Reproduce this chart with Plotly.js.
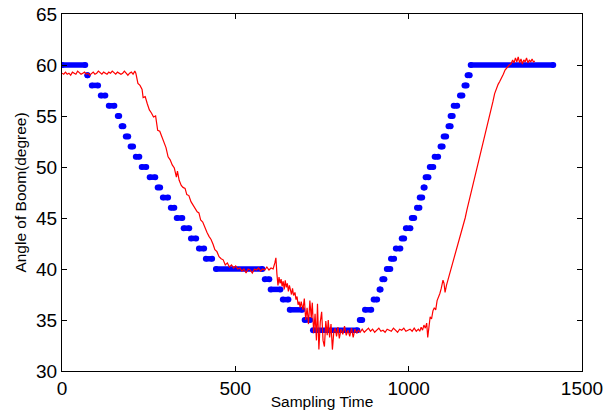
<!DOCTYPE html>
<html>
<head>
<meta charset="utf-8">
<script src="https://cdn.plot.ly/plotly-3.0.1.min.js"></script>
<style>html,body{margin:0;padding:0;background:#fff;}#chart{width:614px;height:410px;}</style>
</head>
<body>
<div id="chart"></div>
<script>
// Reference (blue dotted staircase): level and the sample range of each run of dots
var blueLevel = [60,59,58,57,56,55,54,53,52,51,50,49,48,47,46,45,44,43,42,41,40,39,38,37,36,35,34,35,36,37,38,39,40,41,42,43,44,45,46,47,48,49,50,51,52,53,54,55,56,57,58,59,60];
var blueStart = [0,73,86,112,135,161,172,184,198,213,230,253,276,291,314,331,351,372,395,415,444,585,602,637,657,700,724,859,874,899,916,924,937,949,963,980,992,1009,1024,1032,1043,1049,1061,1075,1092,1101,1115,1121,1130,1148,1161,1170,1179];
var blueEnd   = [67,74,104,125,151,165,177,191,205,223,243,269,283,306,324,347,367,387,410,433,578,598,630,653,693,716,852,866,892,909,919,930,947,958,976,987,1005,1016,1031,1039,1046,1057,1071,1085,1098,1108,1121,1127,1140,1155,1167,1176,1417];

// Measured boom angle (red)
var redX = [0,5,10,15,20,25,30,35,40,45,50,55,60,65,70,75,80,85,90,95,100,105,110,115,120,125,130,135,140,145,150,155,160,165,170,175,180,185,190,195,200,205,210,213,
219,225,231,234,240,246,252,258,264,270,276,282,288,294,300,306,312,318,324,330,333,338,344,349,355,360,366,372,378,384,390,395,400,406,412,418,424,430,436,441,447,
453,459,465,471,477,483,489,495,501,507,513,519,525,531,537,543,549,555,561,567,573,579,585,591,597,603,609,614,617,620,623,626,629,632,635,638,641,644,647,650,653,656,659,662,665,668,672,675,678,681,684,687,
690,695,699,703,707,711,715,719,722,726,730,734,737,741,745,749,753,757,761,765,768,772,776,780,784,788,792,796,800,805,810,815,820,825,830,835,840,845,850,855,860,
866,872,878,884,890,896,902,908,914,920,926,932,938,944,950,956,962,968,974,980,986,992,998,1004,1010,1016,1022,1028,1032,1036,1040,1044,1048,1052,1055,1058,1062,1066,1070,1074,1078,1082,1086,1090,1094,1099,1102,1105,1109,1114,1119,1124,1129,1134,1139,1144,1148,1153,1158,1163,1168,1173,1178,1183,1188,1193,1198,1203,1208,1213,1218,1223,1228,1233,1238,1243,1248,1253,1258,1263,1268,1273,1278,1284,1290,1295,1300,1304,1308,1312,1316,1320,1324,1328,1332,1336,1340,1344,1348,1352,1356,1360,1364];
var redY = [59.2,59.1,59.3,59.1,59.2,59.0,59.3,59.2,59.1,59.4,59.2,59.1,59.2,59.3,59.1,59.2,59.0,59.2,59.3,59.1,59.2,59.4,59.2,59.1,59.3,59.2,59.1,59.3,59.2,59.4,59.2,59.1,59.3,59.2,59.1,59.2,59.4,59.2,59.0,59.2,59.3,59.1,59.4,59.2,
58.2,58.0,57.6,56.8,56.9,56.2,55.6,55.3,54.9,55.0,53.6,53.5,52.9,52.3,51.9,51.0,50.7,50.2,49.9,49.0,49.6,48.7,48.2,48.0,47.9,47.3,47.2,46.6,46.3,46.0,45.6,45.5,44.8,44.6,44.0,43.6,43.2,42.9,42.4,41.9,41.7,
41.2,41.0,40.9,40.4,40.6,40.2,40.4,40.1,40.3,40.0,40.1,39.8,40.0,39.6,40.0,39.9,39.6,40.0,39.9,40.1,39.8,40.0,39.9,40.2,39.9,40.1,40.0,40.6,41.1,39.5,38.4,39.2,38.6,39.0,38.3,38.8,38.0,38.9,38.2,38.6,37.8,38.4,38.0,37.5,38.1,37.4,37.7,37.0,37.3,36.5,36.8,36.2,
36.8,36.0,37.1,35.0,36.2,34.6,36.9,35.2,36.7,33.7,35.6,33.0,36.6,32.1,34.8,35.8,33.0,32.4,34.9,33.5,35.0,33.3,34.6,32.1,33.8,34.2,33.4,34.3,33.2,34.1,33.6,34.4,33.5,34.0,33.4,34.2,33.3,34.1,33.7,34.0,33.8,
34.1,33.8,34.0,34.2,33.9,34.1,33.8,34.0,34.2,33.9,34.0,33.8,34.1,34.0,33.9,34.2,34.0,33.8,34.1,34.0,34.2,33.9,34.0,34.1,33.9,34.2,33.9,34.1,33.9,34.3,34.0,34.5,34.2,34.7,33.3,34.5,35.3,35.1,35.9,36.2,36.0,36.9,37.2,37.6,38.1,38.9,38.6,37.7,38.4,39.0,39.6,40.2,40.8,41.3,41.9,42.6,43.0,43.6,44.3,45.0,45.8,46.5,47.1,47.8,48.5,49.2,49.8,50.6,51.3,52.0,52.7,53.4,54.1,54.8,55.7,56.4,57.2,57.7,58.1,58.4,58.7,59.1,59.5,59.8,60.0,60.1,60.5,60.2,60.7,60.3,60.8,60.2,60.6,60.1,60.5,60.3,60.7,60.2,60.5,60.3,60.6,60.3,60.4];

var xTicks = [0,500,1000,1500];
var yTicks = [30,35,40,45,50,55,60,65];

var bx = [], by = [];
for (var i = 0; i < blueLevel.length; i++) {
  bx.push(blueStart[i], blueEnd[i], null);
  by.push(blueLevel[i], blueLevel[i], null);
}

var traces = [
  {x: bx, y: by, type: 'scatter', mode: 'lines+markers',
   line: {color: '#0000ff', width: 5.5}, marker: {color: '#0000ff', size: 6, symbol: 'circle'},
   connectgaps: false, hoverinfo: 'skip'},
  {x: redX, y: redY, type: 'scatter', mode: 'lines',
   line: {color: '#ff0000', width: 1.2}, hoverinfo: 'skip'}
];

var fontFam = 'Liberation Sans, Arial, Helvetica, sans-serif';
var layout = {
  width: 614, height: 410,
  margin: {l: 62, r: 32, t: 14, b: 39, pad: 0},
  paper_bgcolor: '#ffffff', plot_bgcolor: '#ffffff',
  showlegend: false,
  font: {family: fontFam, color: '#000000'},
  xaxis: {
    range: [0, 1500], tickvals: xTicks, ticktext: xTicks.map(String),
    ticks: 'inside', ticklen: 5, tickwidth: 1, tickcolor: '#000',
    showline: true, linecolor: '#000', linewidth: 1, mirror: 'ticks',
    showgrid: false, zeroline: false,
    tickfont: {size: 19, family: fontFam, color: '#000'},
    title: {text: 'Sampling Time', font: {size: 15.5, family: fontFam, color: '#000'}, standoff: 1}
  },
  yaxis: {
    range: [30, 65], tickvals: yTicks, ticktext: yTicks.map(String),
    ticks: 'inside', ticklen: 5, tickwidth: 1, tickcolor: '#000',
    showline: true, linecolor: '#000', linewidth: 1, mirror: 'ticks',
    showgrid: false, zeroline: false,
    tickfont: {size: 19, family: fontFam, color: '#000'},
    title: {text: 'Angle of Boom(degree)', font: {size: 15.5, family: fontFam, color: '#000'}, standoff: 5}
  }
};

Plotly.newPlot('chart', traces, layout, {staticPlot: true, displayModeBar: false});
</script>
</body>
</html>
